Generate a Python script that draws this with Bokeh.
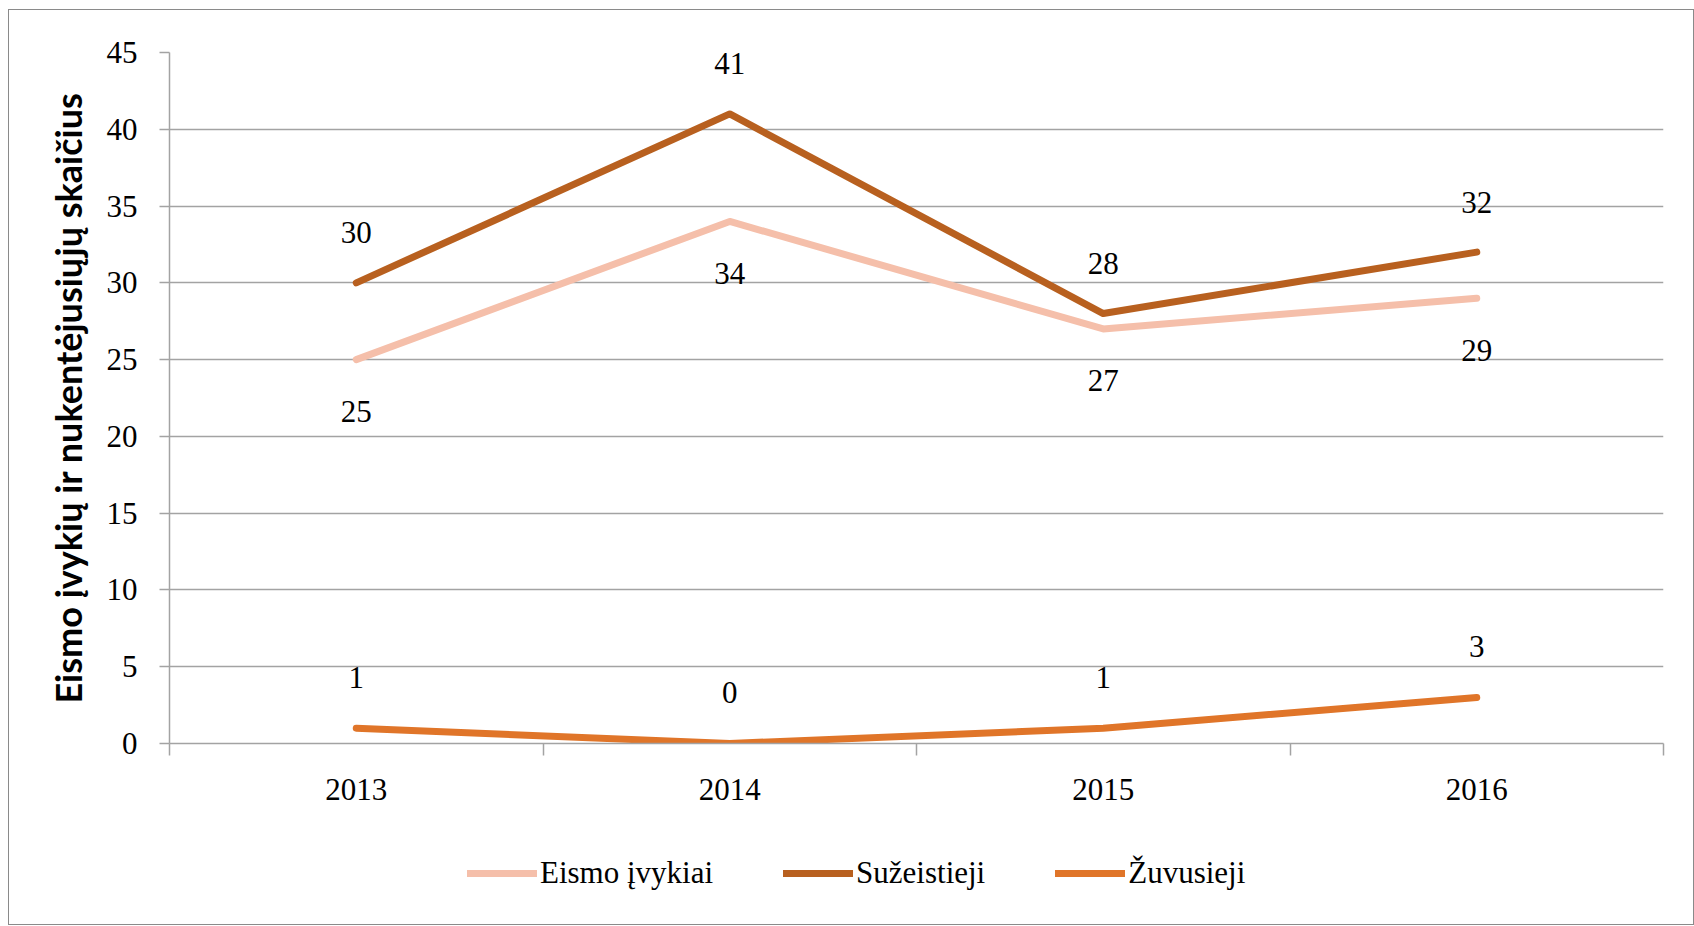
from bokeh.plotting import figure
from bokeh.layouts import column
from bokeh.models import (Range1d, FixedTicker, Legend, LegendItem,
                          ColumnDataSource)
from bokeh.core.properties import value
from bokeh.embed import file_html
from bokeh.resources import INLINE

# ---- data ----
years = ["2013", "2014", "2015", "2016"]
eismo_ivykiai = [25, 34, 27, 29]
suzeistieji = [30, 41, 28, 32]
zuvusieji = [1, 0, 1, 3]
series_names = ["Eismo įvykiai", "Sužeistieji", "Žuvusieji"]
y_ticks = [0, 5, 10, 15, 20, 25, 30, 35, 40, 45]
y_title = "Eismo įvykių ir nukentėjusiųjų skaičius"

# category centres / boundaries on a numeric axis
x_pos = [i + 0.5 for i in range(len(years))]
x_bounds = list(range(len(years) + 1))

# ---- styles ----
colors = ["#F5BFAA", "#B8601F", "#E07529"]
label_offsets = [52, -50, -51]   # screen px: + below, - above
SERIF = "Liberation Serif"
GRID = "#A3A3A3"
FS = "31px"
W = 1684

p = figure(width=W, height=820,
           x_range=Range1d(0, len(years)),
           y_range=Range1d(0, 45),
           output_backend="svg", toolbar_location=None,
           min_border_left=160, min_border_right=30,
           min_border_top=42, min_border_bottom=87)
p.outline_line_color = None
p.background_fill_color = "white"
p.border_fill_color = "white"

# y axis
yax = p.yaxis[0]
yax.ticker = FixedTicker(ticks=y_ticks)
yax.major_tick_out = 10
yax.major_tick_in = 0
yax.minor_tick_line_color = None
yax.axis_line_color = GRID
yax.axis_line_width = 1.5
yax.major_tick_line_color = GRID
yax.major_tick_line_width = 1.5
yax.major_label_text_font = SERIF
yax.major_label_text_font_size = FS
yax.major_label_text_color = "black"
yax.major_label_standoff = 22
yax.axis_label = y_title
yax.axis_label_text_font = "Lato"
yax.axis_label_text_font_style = "bold"
yax.axis_label_text_font_size = "36px"
yax.axis_label_text_color = "black"
yax.axis_label_standoff = 14

p.ygrid.ticker = FixedTicker(ticks=y_ticks)
p.ygrid.grid_line_color = GRID
p.ygrid.grid_line_width = 1.5
p.xgrid.grid_line_color = None

# x axis: labels at category centres, ticks at boundaries
xax = p.xaxis[0]
xax.ticker = FixedTicker(ticks=x_pos, minor_ticks=x_bounds)
xax.major_label_overrides = {x: y for x, y in zip(x_pos, years)}
xax.major_tick_line_color = None
xax.major_tick_out = 0
xax.major_tick_in = 0
xax.minor_tick_out = 12
xax.minor_tick_in = 0
xax.minor_tick_line_color = GRID
xax.minor_tick_line_width = 1.5
xax.axis_line_color = GRID
xax.axis_line_width = 1.5
xax.major_label_text_font = SERIF
xax.major_label_text_font_size = FS
xax.major_label_text_color = "black"
xax.major_label_standoff = 23

# lines + labels
sources = []
for name, vals, col, off in zip(series_names,
                                [eismo_ivykiai, suzeistieji, zuvusieji],
                                colors, label_offsets):
    src = ColumnDataSource(dict(x=x_pos, y=vals, t=[str(v) for v in vals]))
    sources.append(src)
    p.line("x", "y", source=src, line_color=col, line_width=7,
           line_cap="round", line_join="round")
    p.text("x", "y", text="t", source=src, y_offset=off,
           text_align="center", text_baseline="middle",
           text_font=value(SERIF), text_font_size=FS, text_color="black")

# ---- legend strip below the chart ----
# same series drawn off-screen (range below all values) so only the legend shows
lg = figure(width=W, height=94, x_range=Range1d(0, len(years)),
            y_range=Range1d(-20, -10),
            output_backend="svg", toolbar_location=None,
            x_axis_location=None, y_axis_location=None, min_border=0)
lg.outline_line_color = None
lg.background_fill_color = "white"
lg.border_fill_color = "white"
lg.grid.visible = False
items = []
for name, col, src in zip(series_names, colors, sources):
    r = lg.line("x", "y", source=src, line_color=col, line_width=7,
                line_cap="round")
    items.append(LegendItem(label=name, renderers=[r]))
legend = Legend(items=items, orientation="horizontal",
                location=(298, 33),
                glyph_width=70, glyph_height=30, label_standoff=3,
                spacing=70, padding=0, margin=0,
                border_line_color=None, background_fill_alpha=0,
                label_text_font=SERIF, label_text_font_size=FS,
                label_text_color="black")
lg.add_layout(legend)

layout = column(p, lg, spacing=0,
                styles={"border": "1px solid #8A8A8A", "margin-left": "8px",
                        "margin-top": "9px", "background-color": "white"})

open("out.html", "w").write(file_html(layout, INLINE))
